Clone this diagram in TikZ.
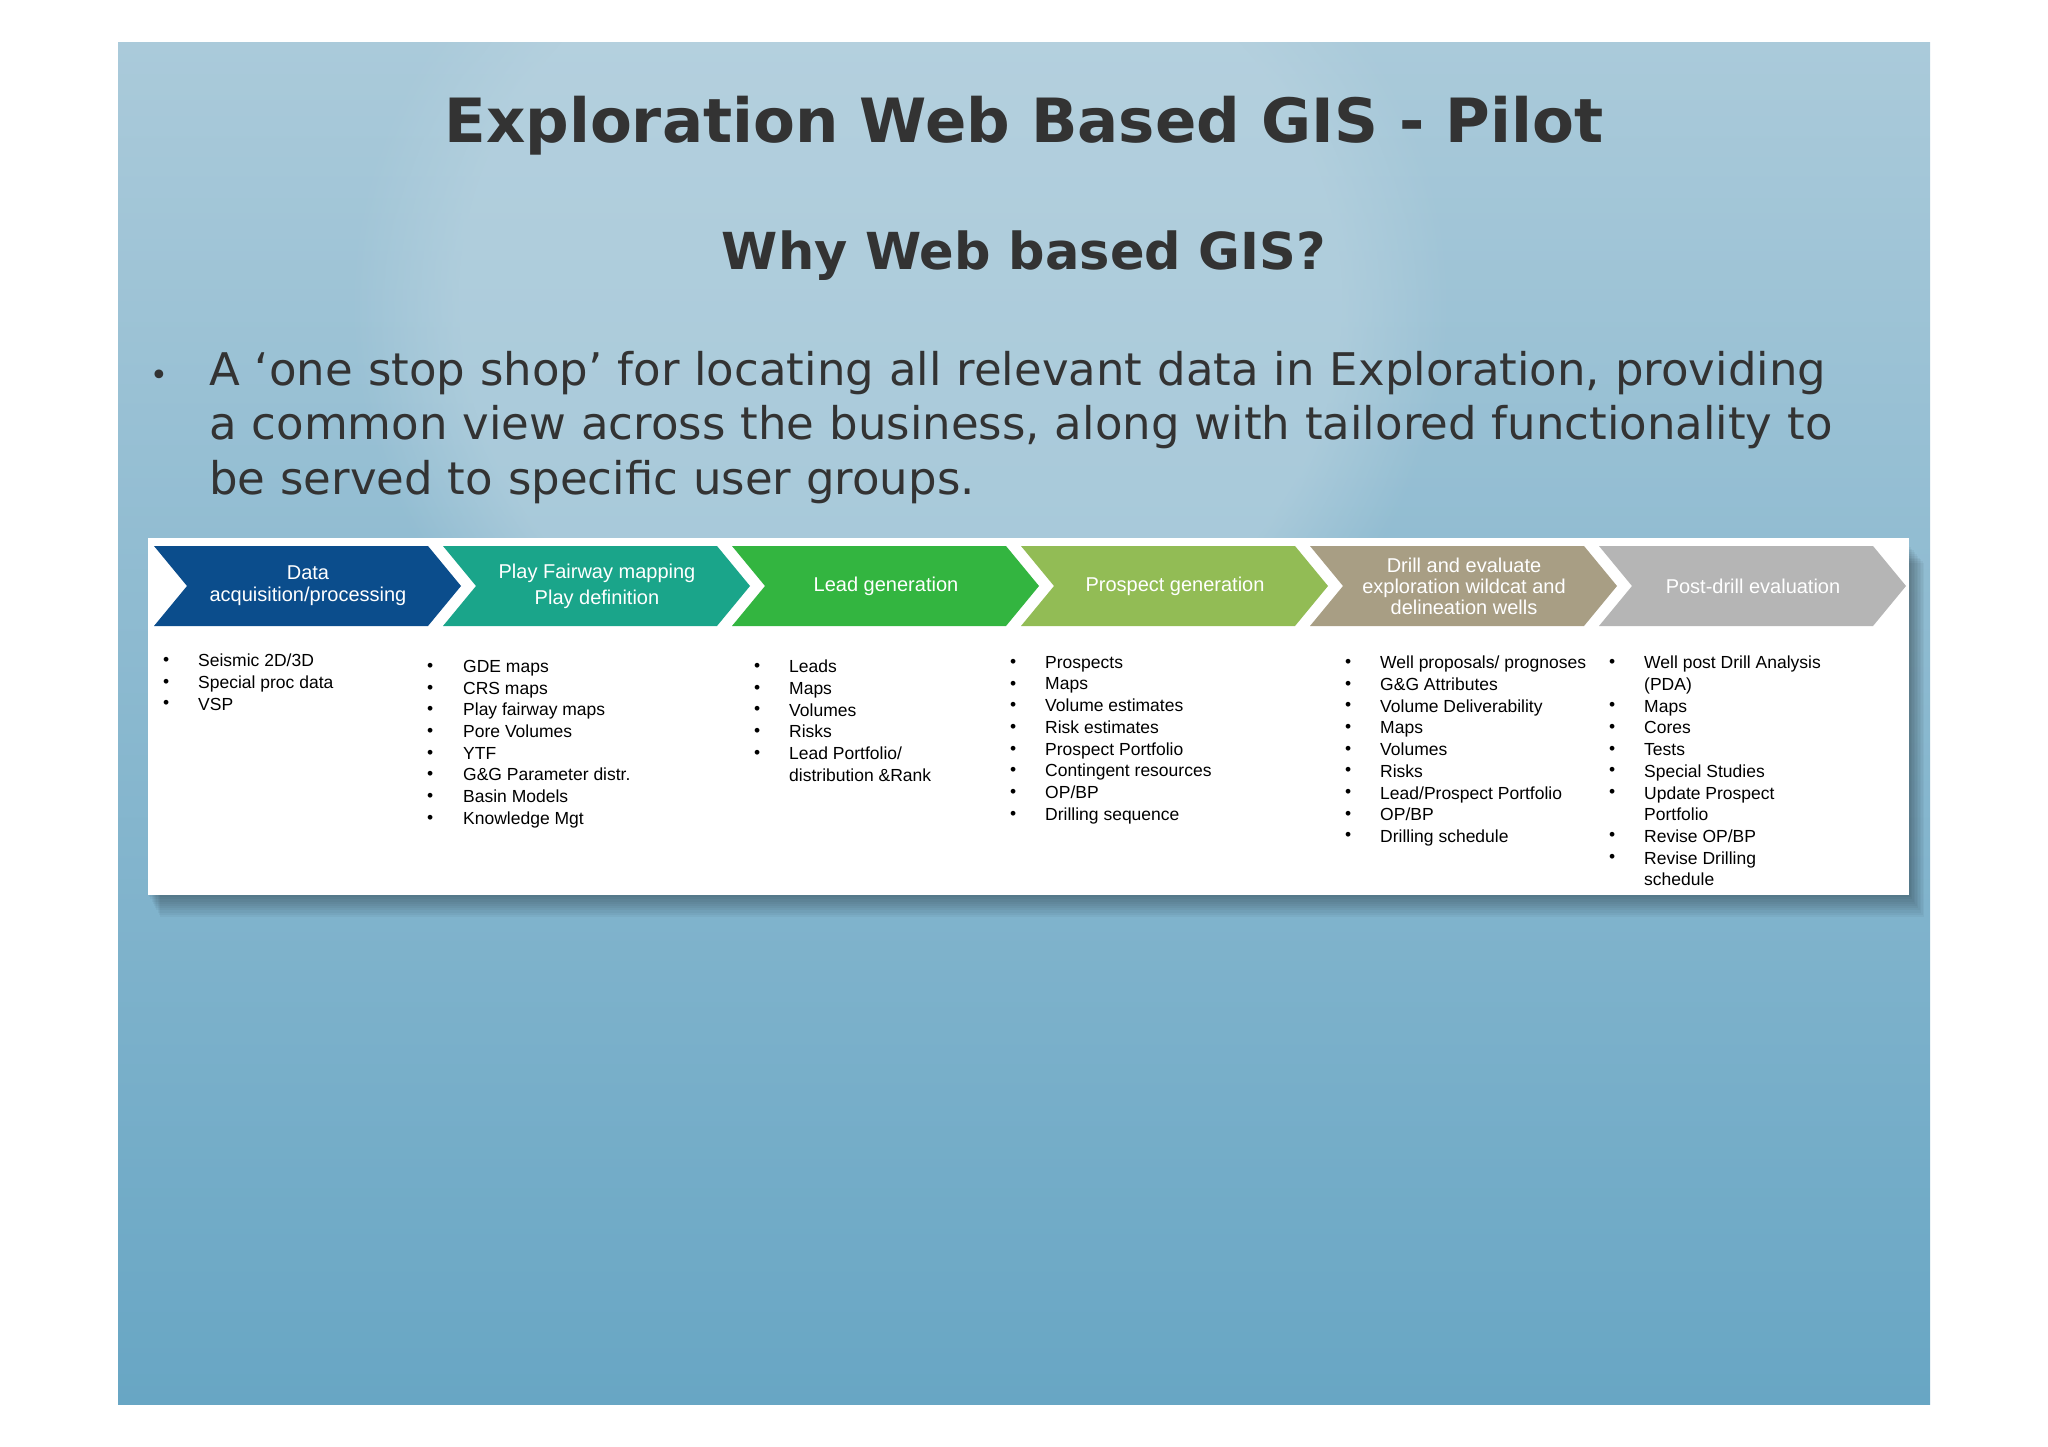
\documentclass[tikz,border=0pt]{standalone}
\usepackage{fontspec}
\setmainfont{Liberation Sans}
\newfontfamily\verd{DejaVu Sans}
\usetikzlibrary{fadings}
\definecolor{cA}{HTML}{0B4D8C}
\definecolor{cB}{HTML}{1AA58A}
\definecolor{cC}{HTML}{33B540}
\definecolor{cD}{HTML}{92BC55}
\definecolor{cE}{HTML}{A89E84}
\definecolor{cF}{HTML}{B5B5B5}
\definecolor{tx}{HTML}{333333}
\tikzset{
 chev/.style={font=\fontsize{20}{22}\selectfont, text=white, align=center},
 lst/.style={anchor=north west, align=left, inner sep=0pt, font=\fontsize{17.5}{21.7}\selectfont, text=black},
}
\newcommand{\chevron}[2]{%
 \fill[#2] (#1,546) -- ++(274,0) -- ++(33,40) -- ++(-33,40) -- ++(-274,0) -- ++(33,-40) -- cycle;}
\begin{document}
\begin{tikzpicture}[x=1pt,y=-1pt]
\useasboundingbox (0,0) rectangle (2048,1447);
\fill[white] (0,0) rectangle (2048,1447);
\begin{scope}
\clip (118,43) rectangle (1930,1404);
\shade[top color={rgb,255:red,170;green,202;blue,218}, bottom color={rgb,255:red,104;green,166;blue,196}] (118,43) rectangle (1930,1404);
\shade[inner color={rgb,255:red,190;green,214;blue,226}, outer color={rgb,255:red,190;green,214;blue,226}, opacity=0.5, path fading=circle with fuzzy edge 20 percent] (350,-200) rectangle (1450,800);
\foreach \i in {1,...,10} {
 \fill[black, opacity=0.035] (148+\i*1.2,545+\i*1.8) rectangle (1909+\i*1.5,895+\i*2.2);
}
\end{scope}
\node[font=\verd\bfseries\fontsize{61}{66}\selectfont, text=tx] (title) at (1024,126) {Exploration Web Based GIS - Pilot};
\node[font=\verd\bfseries\fontsize{51}{55}\selectfont, text=tx] (sub) at (1024,256) {Why Web based GIS?};
\node[font=\verd\fontsize{45}{54.5}\selectfont, text=tx, anchor=north west, inner sep=0pt, text width=1650pt, align=left] (bul) at (209,351) {A ‘one stop shop’ for locating all relevant data in Exploration, providing a common view across the business, along with tailored functionality to be served to specific user groups.};
\node[font=\verd\fontsize{30}{30}\selectfont, text=tx] (dot) at (159,378) {•};
\fill[white] (148,538) rectangle (1909,895);
\chevron{154}{cA}
\chevron{443}{cB}
\chevron{732}{cC}
\chevron{1021}{cD}
\chevron{1310}{cE}
\chevron{1599}{cF}
\node[chev] (h1) at (308,586) {Data\\acquisition/processing};
\node[chev] (h2) at (597,586) {Play Fairway mapping\\[4pt]Play definition};
\node[chev] (h3) at (886,586) {Lead generation};
\node[chev] (h4) at (1175,586) {Prospect generation};
\node[chev, font=\fontsize{20}{21}\selectfont] (h5) at (1464,586) {Drill and evaluate\\exploration wildcat and\\delineation wells};
\node[chev] (h6) at (1753,586) {Post-drill evaluation};
\node[lst] (b1) at (163,657) {•\\•\\•};
\node[lst] (l1) at (198,654) {Seismic 2D/3D\\Special proc data\\VSP};
\node[lst] (b2) at (427,663) {•\\•\\•\\•\\•\\•\\•\\•};
\node[lst] (l2) at (463,660) {GDE maps\\CRS maps\\Play fairway maps\\Pore Volumes\\YTF\\G\&G Parameter distr.\\Basin Models\\Knowledge Mgt};
\node[lst] (b3) at (754,663) {•\\•\\•\\•\\•};
\node[lst] (l3) at (789,660) {Leads\\Maps\\Volumes\\Risks\\Lead Portfolio/\\distribution \&Rank};
\node[lst] (b4) at (1010,659) {•\\•\\•\\•\\•\\•\\•\\•};
\node[lst] (l4) at (1045,656) {Prospects\\Maps\\Volume estimates\\Risk estimates\\Prospect Portfolio\\Contingent resources\\OP/BP\\Drilling sequence};
\node[lst] (b5) at (1345,659) {•\\•\\•\\•\\•\\•\\•\\•\\•};
\node[lst] (l5) at (1380,656) {Well proposals/ prognoses\\G\&G Attributes\\Volume Deliverability\\Maps\\Volumes\\Risks\\Lead/Prospect Portfolio\\OP/BP\\Drilling schedule};
\node[lst] (b6) at (1609,659) {•\\\\•\\•\\•\\•\\•\\\\•\\•};
\node[lst] (l6) at (1644,656) {Well post Drill Analysis\\(PDA)\\Maps\\Cores\\Tests\\Special Studies\\Update Prospect\\Portfolio\\Revise OP/BP\\Revise Drilling\\schedule};
\end{tikzpicture}
\end{document}
